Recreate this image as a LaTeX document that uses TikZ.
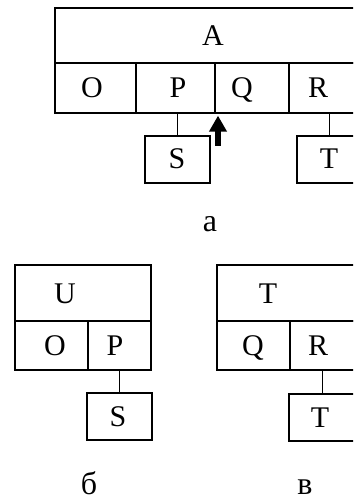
\documentclass[tikz,border=0pt]{standalone}
\usepackage{fontspec}
\setmainfont{Liberation Serif}
\usetikzlibrary{arrows.meta}

\begin{document}
\begin{tikzpicture}[x=1pt, y=-1pt,
  box/.style={draw, line width=1.3pt, inner sep=0pt},
  txt/.style={anchor=base, inner sep=0pt, font=\fontsize{30}{30}\selectfont},
  sublabel/.style={anchor=base, inner sep=0pt, font=\fontsize{32}{32}\selectfont}]
  \useasboundingbox (0,0) rectangle (353,502);
  \clip (0,0) rectangle (353,502);

  % Record A
  \node[box, minimum width=310, minimum height=55] (hA) at (210,35.5) {};
  \node[box, minimum width=81, minimum height=50] (cO) at (95.5,88) {};
  \node[box, minimum width=79, minimum height=50] (cP) at (175.5,88) {};
  \node[box, minimum width=74, minimum height=50] (cQ) at (252,88) {};
  \node[box, minimum width=76, minimum height=50] (cR) at (327,88) {};
  \node[box, minimum width=65, minimum height=47] (bS) at (177.5,159.5) {};
  \node[box, minimum width=65, minimum height=47] (bT) at (329.5,159.5) {};
  \node[txt] (tA) at (213,46) {A};
  \node[txt] (tO) at (92,98) {O};
  \node[txt] (tP) at (178,98) {P};
  \node[txt] (tQ) at (242,98) {Q};
  \node[txt] (tR) at (318,98) {R};
  \node[txt] (tS) at (177,169) {S};
  \node[txt] (tT) at (329,169) {T};

  % Links
  \draw[line width=1.3pt] (bS.north) -- (bS.north |- cP.south);
  \draw[line width=1.3pt] (bT.north) -- (bT.north |- cR.south);

  % Pointer
  \coordinate (tail) at (218,146);
  \draw[line width=5.5pt, -{Triangle[width=17pt, length=16pt]}, shorten >=2pt]
    (tail) -- (tail |- cP.south east);

  \node[sublabel] (la) at (210,232) {а};

  % Record U
  \node[box, minimum width=136, minimum height=56] (hU) at (83,293) {};
  \node[box, minimum width=73, minimum height=49] (uO) at (51.5,345.5) {};
  \node[box, minimum width=63, minimum height=49] (uP) at (119.5,345.5) {};
  \node[box, minimum width=65, minimum height=47] (uS) at (119.5,416.5) {};
  \node[txt] (tU) at (65,303) {U};
  \node[txt] (tuO) at (55,355) {O};
  \node[txt] (tuP) at (115,355) {P};
  \node[txt] (tuS) at (118,426) {S};
  \draw[line width=1.3pt] (uS.north) -- (uP.south);
  \node[sublabel] (lb) at (89,494) {б};

  % Record T
  \node[box, minimum width=139, minimum height=56] (hT) at (286.5,293) {};
  \node[box, minimum width=73, minimum height=49] (vQ) at (253.5,345.5) {};
  \node[box, minimum width=65, minimum height=49] (vR) at (322.5,345.5) {};
  \node[box, minimum width=67, minimum height=47] (vT) at (322.5,417.5) {};
  \node[txt] (thT) at (268,303) {T};
  \node[txt] (tvQ) at (253,355) {Q};
  \node[txt] (tvR) at (318,355) {R};
  \node[txt] (tvT) at (320,427) {T};
  \draw[line width=1.3pt] (vT.north) -- (vR.south);
  \node[sublabel] (lv) at (305,494) {в};
\end{tikzpicture}
\end{document}
